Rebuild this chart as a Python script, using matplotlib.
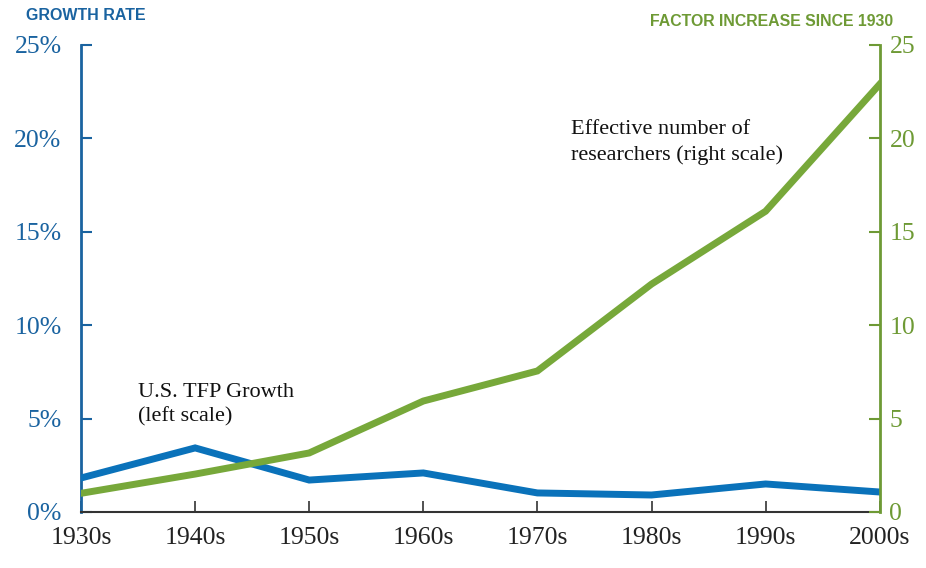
import matplotlib
matplotlib.use('Agg')
import matplotlib.pyplot as plt

# === Data ===
decades = ['1930s', '1940s', '1950s', '1960s', '1970s', '1980s', '1990s', '2000s']
tfp_growth = [1.82, 3.43, 1.71, 2.09, 1.02, 0.91, 1.50, 1.07]          # % (left scale)
researchers = [1.0, 2.03, 3.16, 5.94, 7.55, 12.2, 16.1, 22.9]          # factor since 1930 (right scale)
left_ticks = [0, 5, 10, 15, 20, 25]
right_ticks = [0, 5, 10, 15, 20, 25]

BLUE = '#0a72ba'
BLUE_TXT = '#1a63a0'
GREEN = '#77a83a'
GREEN_TXT = '#6e9a35'
serif = ['Liberation Serif', 'DejaVu Serif']
sans = ['Liberation Sans', 'DejaVu Sans']

fig = plt.figure(figsize=(9.26, 5.68), dpi=100)
ax = fig.add_axes([0.0875, 0.0986, 0.8625, 0.8222])
ax2 = ax.twinx()

x = list(range(len(decades)))
ax.plot(x, tfp_growth, color=BLUE, lw=5, solid_joinstyle='miter', zorder=3)
ax2.plot(x, researchers, color=GREEN, lw=5, solid_joinstyle='miter', zorder=3)

ax.set_xlim(0, len(decades) - 1)
ax.set_ylim(0, 25)
ax2.set_ylim(0, 25)

ax.set_xticks(x)
ax.set_xticklabels(decades, fontfamily=serif, fontsize=18.5, color='#222222')
ax.set_yticks(left_ticks)
ax.set_yticklabels([f'{t}%' for t in left_ticks], fontfamily=serif, fontsize=18.5, color=BLUE_TXT)
ax2.set_yticks(right_ticks)
ax2.set_yticklabels([str(t) for t in right_ticks], fontfamily=serif, fontsize=18.5, color=GREEN_TXT)

ax.tick_params(axis='x', direction='in', length=8, width=1.2, color='#333333', pad=11)
ax.tick_params(axis='y', direction='in', length=8, width=1.5, color=BLUE_TXT, pad=14)
ax2.tick_params(axis='y', direction='in', length=8, width=1.5, color=GREEN_TXT, pad=7)

for a in (ax, ax2):
    a.spines['top'].set_visible(False)
ax2.spines['left'].set_visible(False)
ax2.spines['bottom'].set_visible(False)
ax.spines['right'].set_visible(False)
ax.spines['left'].set_color(BLUE_TXT)
ax.spines['left'].set_linewidth(2)
ax2.spines['right'].set_color(GREEN_TXT)
ax2.spines['right'].set_linewidth(2)
ax.spines['bottom'].set_color('#333333')
ax.spines['bottom'].set_linewidth(1.5)

# Axis titles
fig.text(26 / 926, 1 - 16 / 568, 'GROWTH RATE', fontfamily=sans, fontweight='bold',
         fontsize=11.5, color=BLUE_TXT, ha='left', va='center')
fig.text(893 / 926, 1 - 22 / 568, 'FACTOR INCREASE SINCE 1930', fontfamily=sans, fontweight='bold',
         fontsize=11.4, color=GREEN_TXT, ha='right', va='center')

# Series labels
ax.text(0.614, 0.839, 'Effective number of\nresearchers (right scale)', transform=ax.transAxes,
        fontfamily=serif, fontsize=16, color='#111111', ha='left', va='top', linespacing=1.4)
ax.text(0.071, 0.277, 'U.S. TFP Growth\n(left scale)', transform=ax.transAxes,
        fontfamily=serif, fontsize=16, color='#111111', ha='left', va='top', linespacing=1.4)

fig.savefig('out.png', dpi=100)
